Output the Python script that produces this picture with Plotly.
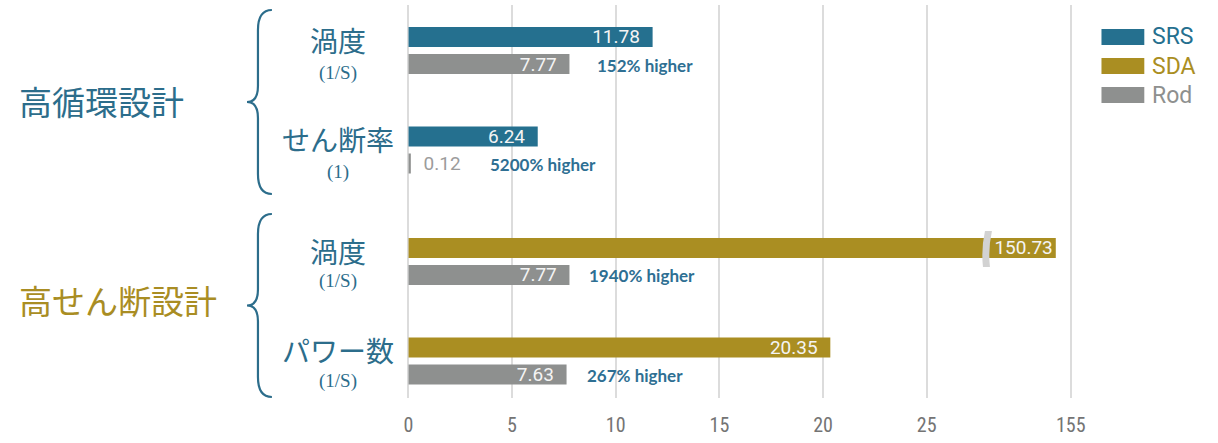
import plotly.graph_objects as go

# ---- data ----
categories = ["渦度", "せん断率", "渦度", "パワー数"]
units = ["(1/S)", "(1)", "(1/S)", "(1/S)"]
groups = ["高循環設計", "高循環設計", "高せん断設計", "高せん断設計"]
srs_values = [11.78, 6.24]          # 高循環設計 rows
sda_values = [150.73, 20.35]        # 高せん断設計 rows
rod_values = [7.77, 0.12, 7.77, 7.63]
gain_labels = ["152% higher", "5200% higher", "1940% higher", "267% higher"]
low_ticks = [0, 5, 10, 15, 20, 25]
high_ticks = [155]

# ---- styling ----
W, H = 1218, 443
BLUE = "#25708f"
GOLD = "#aa8e22"
GREY = "#8e908f"
GRID = "#dcdcdc"
TXT_BLUE = "#2c6d8b"
TXT_GOLD = "#a98d23"
EN = "\u2002"  # en space used as padding around bar value labels


def px(x):
    return x / W


def py(y):
    return 1 - y / H


def fmt_in(v):
    return f"{v:.2f}{EN}"


# row positions: one unit per category, extra gap between the two designs
group_names = list(dict.fromkeys(groups))
ypos = [i + 0.12 * group_names.index(g) for i, g in enumerate(groups)]
bar_w = 0.2
top_off = -0.236
bot_off = 0.036

fig = go.Figure()

val_font = dict(family="Roboto, Liberation Sans, sans-serif", size=19, color="#f4f4f4")
common = dict(orientation="h", width=bar_w, textangle=0, insidetextanchor="end",
              constraintext="none", textfont=val_font, showlegend=False, yaxis="y")

# SRS bars
fig.add_trace(go.Bar(
    name="SRS", x=srs_values, y=ypos[:2], offset=top_off,
    marker=dict(color=BLUE, line=dict(width=0)),
    text=[fmt_in(v) for v in srs_values], textposition="inside",
    xaxis="x", **common,
))
# SDA bars (low segment of the broken axis)
fig.add_trace(go.Bar(
    name="SDA", x=sda_values, y=ypos[2:], offset=top_off,
    marker=dict(color=GOLD, line=dict(width=0)),
    text=["" if v > low_ticks[-1] else fmt_in(v) for v in sda_values],
    textposition="inside", xaxis="x", **common,
))
# SDA bars (high segment of the broken axis)
fig.add_trace(go.Bar(
    name="SDA", x=sda_values, y=ypos[2:], offset=top_off,
    marker=dict(color=GOLD, line=dict(width=0)),
    text=[f"{v:.2f}" if v > low_ticks[-1] else "" for v in sda_values],
    textposition="inside", xaxis="x2", **common,
))
# Rod bars
fig.add_trace(go.Bar(
    name="Rod", x=rod_values, y=ypos, offset=bot_off,
    marker=dict(color=GREY, line=dict(width=0)),
    text=[fmt_in(v) if v > 1 else f"{EN}{v:.2f}" for v in rod_values],
    textposition=["inside" if v > 1 else "outside" for v in rod_values],
    outsidetextfont=dict(family="Roboto, Liberation Sans, sans-serif", size=19, color="#9c9c9c"),
    xaxis="x", **common,
))

y_lo = -0.457
y_hi = 3.492

tick_font = dict(family="Liberation Sans Narrow, Roboto Condensed, Roboto, sans-serif",
                 size=20, color="#747474")

fig.update_layout(
    width=W, height=H,
    margin=dict(l=0, r=0, t=0, b=0),
    paper_bgcolor="white", plot_bgcolor="white",
    barmode="overlay",
    showlegend=False,
    xaxis=dict(
        domain=[px(405), px(988)], range=[0, 28], anchor="y",
        tickvals=low_ticks, ticktext=[str(t) for t in low_ticks],
        showgrid=True, gridcolor=GRID, gridwidth=1.5,
        zeroline=True, zerolinecolor=GRID, zerolinewidth=1.5,
        showline=False, ticks="", tickfont=tick_font, ticklabelstandoff=13,
    ),
    xaxis2=dict(
        domain=[px(988), px(1095)], range=[131.6, 162.1], anchor="y",
        tickvals=high_ticks, ticktext=[str(t) for t in high_ticks],
        showgrid=True, gridcolor=GRID, gridwidth=1.5, zeroline=False,
        showline=False, ticks="", tickfont=tick_font, ticklabelstandoff=13,
    ),
    yaxis=dict(
        domain=[py(398), py(5)], range=[y_hi, y_lo], anchor="x",
        showticklabels=False, showgrid=False, zeroline=False, showline=False,
    ),
)

shapes = []
annotations = []

# axis-break marker on the long SDA bar
shapes.append(dict(
    type="path", xref="paper", yref="paper", layer="above",
    path=(f"M {px(984)},{py(231)} L {px(991)},{py(231)} "
          f"Q {px(987)},{py(249)} {px(989)},{py(267)} "
          f"L {px(982)},{py(267)} Q {px(980)},{py(249)} {px(984)},{py(231)} Z"),
    fillcolor="#d2d2d2", line=dict(width=0),
))


# curly braces grouping the rows of each design
def brace(top, bottom, tip_x=243, col_x=254, end_x=268):
    mid = (top + bottom) / 2
    return (f"M {px(end_x)},{py(top)} "
            f"Q {px(col_x)},{py(top)} {px(col_x)},{py(top + 20)} "
            f"L {px(col_x)},{py(mid - 16)} "
            f"Q {px(col_x)},{py(mid)} {px(tip_x)},{py(mid)} "
            f"Q {px(col_x)},{py(mid)} {px(col_x)},{py(mid + 16)} "
            f"L {px(col_x)},{py(bottom - 20)} "
            f"Q {px(col_x)},{py(bottom)} {px(end_x)},{py(bottom)}")


for top, bottom in [(10, 194), (214, 397)]:
    shapes.append(dict(type="path", xref="paper", yref="paper",
                       path=brace(top, bottom),
                       line=dict(color=TXT_BLUE, width=2.2)))

# group titles
group_style = {
    "高循環設計": dict(color=TXT_BLUE, y=101, x=97),
    "高せん断設計": dict(color=TXT_GOLD, y=300, x=113),
}
for g in group_names:
    st = group_style[g]
    annotations.append(dict(
        text=g, xref="paper", yref="paper", x=px(st["x"]), y=py(st["y"]),
        xanchor="center", yanchor="middle", showarrow=False,
        font=dict(family="Noto Sans CJK JP", size=33, color=st["color"]),
    ))

# category names with units
name_y = [40, 139, 251, 350]
unit_y = [73, 172, 281, 381]
for cat, unit, ny, uy in zip(categories, units, name_y, unit_y):
    annotations.append(dict(
        text=cat, xref="paper", yref="paper", x=px(334), y=py(ny),
        xanchor="center", yanchor="middle", showarrow=False,
        font=dict(family="Noto Sans CJK JP", size=28, color=TXT_BLUE),
    ))
    annotations.append(dict(
        text=unit, xref="paper", yref="paper", x=px(334), y=py(uy),
        xanchor="center", yanchor="middle", showarrow=False,
        font=dict(family="Liberation Serif, Noto Sans CJK JP", size=19, color=TXT_BLUE),
    ))

# relative gain labels next to the Rod bars
gain_shift = [26, 77, 18, 18]
for yv, rv, lab, sh in zip(ypos, rod_values, gain_labels, gain_shift):
    annotations.append(dict(
        text=lab, xref="x", yref="y", x=rv, y=yv + bot_off + bar_w / 2,
        xshift=sh, yshift=-1, xanchor="left", yanchor="middle", showarrow=False,
        font=dict(family="Lato", size=17, color="#2e6f93", weight="bold"),
    ))

# legend drawn as wide swatches
legend_items = [("SRS", BLUE), ("SDA", GOLD), ("Rod", GREY)]
for i, (name, col) in enumerate(legend_items):
    yc = 37 + 29 * i
    shapes.append(dict(type="rect", xref="paper", yref="paper",
                       x0=px(1101), x1=px(1144), y0=py(yc - 8), y1=py(yc + 8),
                       fillcolor=col, line=dict(width=0)))
    annotations.append(dict(
        text=name, xref="paper", yref="paper", x=px(1150), y=py(yc),
        xanchor="left", yanchor="middle", showarrow=False,
        font=dict(family="Roboto", size=23, color=col),
    ))

fig.update_layout(shapes=shapes, annotations=annotations)

fig.write_html("out.html")
